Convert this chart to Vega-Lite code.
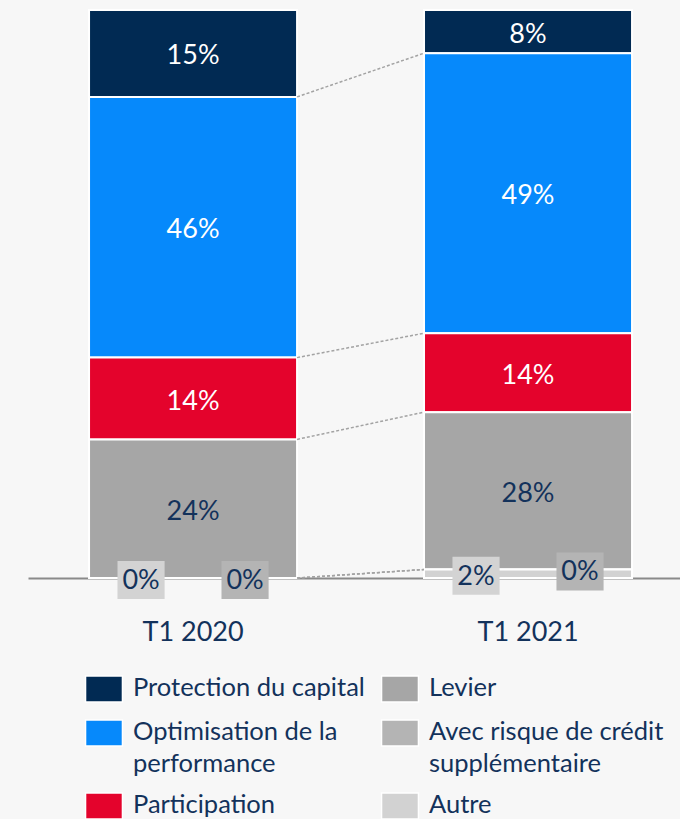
{
  "$schema": "https://vega.github.io/schema/vega-lite/v6.json",
  "width": 652,
  "height": 568,
  "autosize": {"type": "none"},
  "padding": {"left": 28, "top": 10, "right": 0, "bottom": 241},
  "background": "#f7f7f7",
  "config": {"view": {"stroke": null}, "font": "Lato"},
  "data": {
    "values": [
      {"periode": "T1 2020", "type": "Protection du capital", "valeur": 0.153, "rang": 6},
      {"periode": "T1 2020", "type": "Optimisation de la performance", "valeur": 0.459, "rang": 5},
      {"periode": "T1 2020", "type": "Participation", "valeur": 0.144, "rang": 4},
      {"periode": "T1 2020", "type": "Levier", "valeur": 0.244, "rang": 3},
      {"periode": "T1 2020", "type": "Avec risque de crédit supplémentaire", "valeur": 0, "rang": 2},
      {"periode": "T1 2020", "type": "Autre", "valeur": 0, "rang": 1},
      {"periode": "T1 2021", "type": "Protection du capital", "valeur": 0.076, "rang": 6},
      {"periode": "T1 2021", "type": "Optimisation de la performance", "valeur": 0.493, "rang": 5},
      {"periode": "T1 2021", "type": "Participation", "valeur": 0.139, "rang": 4},
      {"periode": "T1 2021", "type": "Levier", "valeur": 0.277, "rang": 3},
      {"periode": "T1 2021", "type": "Avec risque de crédit supplémentaire", "valeur": 0, "rang": 2},
      {"periode": "T1 2021", "type": "Autre", "valeur": 0.015, "rang": 1}
    ]
  },
  "transform": [
    {"stack": "valeur", "groupby": ["periode"], "sort": [{"field": "rang", "order": "ascending"}], "as": ["y0", "y1"]},
    {"calculate": "(datum.y0 + datum.y1) / 2", "as": "milieu"}
  ],
  "layer": [
    {
      "mark": {"type": "bar", "stroke": "white", "strokeWidth": 2},
      "encoding": {
        "x": {
          "field": "periode", "type": "nominal",
          "scale": {"paddingInner": 0.379, "paddingOuter": 0.1627, "align": 0.56},
          "axis": {
            "title": null, "labelAngle": 0, "ticks": false, "tickSize": 0,
            "domainColor": "#8a8a8a", "domainWidth": 2,
            "labelFont": "Lato", "labelFontSize": 27, "labelColor": "#13325b",
            "labelPadding": 41, "labelBaseline": "top"
          }
        },
        "y": {"field": "y0", "type": "quantitative", "scale": {"domain": [0, 1], "nice": false}, "axis": null},
        "y2": {"field": "y1"},
        "color": {
          "field": "type", "type": "nominal",
          "scale": {
            "domain": ["Protection du capital", "Optimisation de la performance", "Participation", "Levier", "Avec risque de crédit supplémentaire", "Autre"],
            "range": ["#012a53", "#0689fb", "#e4032c", "#a6a6a6", "#b4b4b4", "#d2d2d2"]
          },
          "legend": {
            "orient": "none", "legendX": 62, "legendY": 652,
            "columns": 2, "title": null,
            "symbolType": "M-1.42,0L1.42,0L1.42,2L-1.42,2Z", "symbolSize": 676,
            "symbolStrokeColor": "white", "symbolStrokeWidth": 1.5,
            "labelFont": "Lato", "labelFontSize": 25.5, "labelColor": "#13325b",
            "labelBaseline": "top", "labelLimit": 500, "labelOffset": 15,
            "rowPadding": 1, "columnPadding": 13,
            "encode": {"labels": {"update": {"lineHeight": {"value": 32}}}},
            "labelExpr": "datum.label == 'Optimisation de la performance' ? ['Optimisation de la', 'performance'] : datum.label == 'Avec risque de crédit supplémentaire' ? ['Avec risque de crédit', 'supplémentaire'] : datum.label"
          }
        }
      }
    },
    {
      "transform": [
        {"filter": "datum.rang <= 5"},
        {"pivot": "periode", "value": "y1", "groupby": ["type"]}
      ],
      "mark": {"type": "rule", "color": "#a3a3a3", "strokeWidth": 1.5, "strokeDash": [3, 2]},
      "encoding": {
        "x": {"datum": "T1 2020", "type": "nominal", "bandPosition": 1},
        "x2": {"datum": "T1 2021", "bandPosition": 0},
        "y": {"field": "T1 2020", "type": "quantitative", "scale": {"domain": [0, 1], "nice": false}, "axis": null},
        "y2": {"field": "T1 2021"}
      }
    },
    {
      "transform": [{"filter": "datum.rang == 1"}],
      "mark": {"type": "point", "shape": "M-1.24,-1L1.24,-1L1.24,1L-1.24,1Z", "size": 1444, "filled": true, "opacity": 1, "strokeWidth": 0, "fill": "#d3d3d3", "xOffset": -52, "yOffset": 2},
      "encoding": {
        "x": {"field": "periode", "type": "nominal"},
        "y": {"field": "milieu", "type": "quantitative", "scale": {"domain": [0, 1], "nice": false}, "axis": null}
      }
    },
    {
      "transform": [{"filter": "datum.rang == 2"}],
      "mark": {"type": "point", "shape": "M-1.24,-1L1.24,-1L1.24,1L-1.24,1Z", "size": 1444, "filled": true, "opacity": 1, "strokeWidth": 0, "fill": "#b4b4b4", "xOffset": 52, "yOffset": 2},
      "encoding": {
        "x": {"field": "periode", "type": "nominal"},
        "y": {"field": "milieu", "type": "quantitative", "scale": {"domain": [0, 1], "nice": false}, "axis": null}
      }
    },
    {
      "transform": [{"filter": "datum.rang == 1"}],
      "mark": {"type": "text", "font": "Lato", "fontSize": 27, "color": "#13325b", "baseline": "middle", "dx": -52, "dy": 3},
      "encoding": {
        "x": {"field": "periode", "type": "nominal"},
        "y": {"field": "milieu", "type": "quantitative", "scale": {"domain": [0, 1], "nice": false}, "axis": null},
        "text": {"field": "valeur", "type": "quantitative", "format": ".0%"}
      }
    },
    {
      "transform": [{"filter": "datum.rang == 2"}],
      "mark": {"type": "text", "font": "Lato", "fontSize": 27, "color": "#13325b", "baseline": "middle", "dx": 52, "dy": 3},
      "encoding": {
        "x": {"field": "periode", "type": "nominal"},
        "y": {"field": "milieu", "type": "quantitative", "scale": {"domain": [0, 1], "nice": false}, "axis": null},
        "text": {"field": "valeur", "type": "quantitative", "format": ".0%"}
      }
    },
    {
      "transform": [{"filter": "datum.rang >= 3"}],
      "mark": {"type": "text", "font": "Lato", "fontSize": 27, "baseline": "middle", "dy": 3},
      "encoding": {
        "x": {"field": "periode", "type": "nominal"},
        "y": {"field": "milieu", "type": "quantitative", "scale": {"domain": [0, 1], "nice": false}, "axis": null},
        "text": {"field": "valeur", "type": "quantitative", "format": ".0%"},
        "color": {"condition": {"test": "datum.rang >= 4", "value": "white"}, "value": "#13325b"}
      }
    }
  ]
}
